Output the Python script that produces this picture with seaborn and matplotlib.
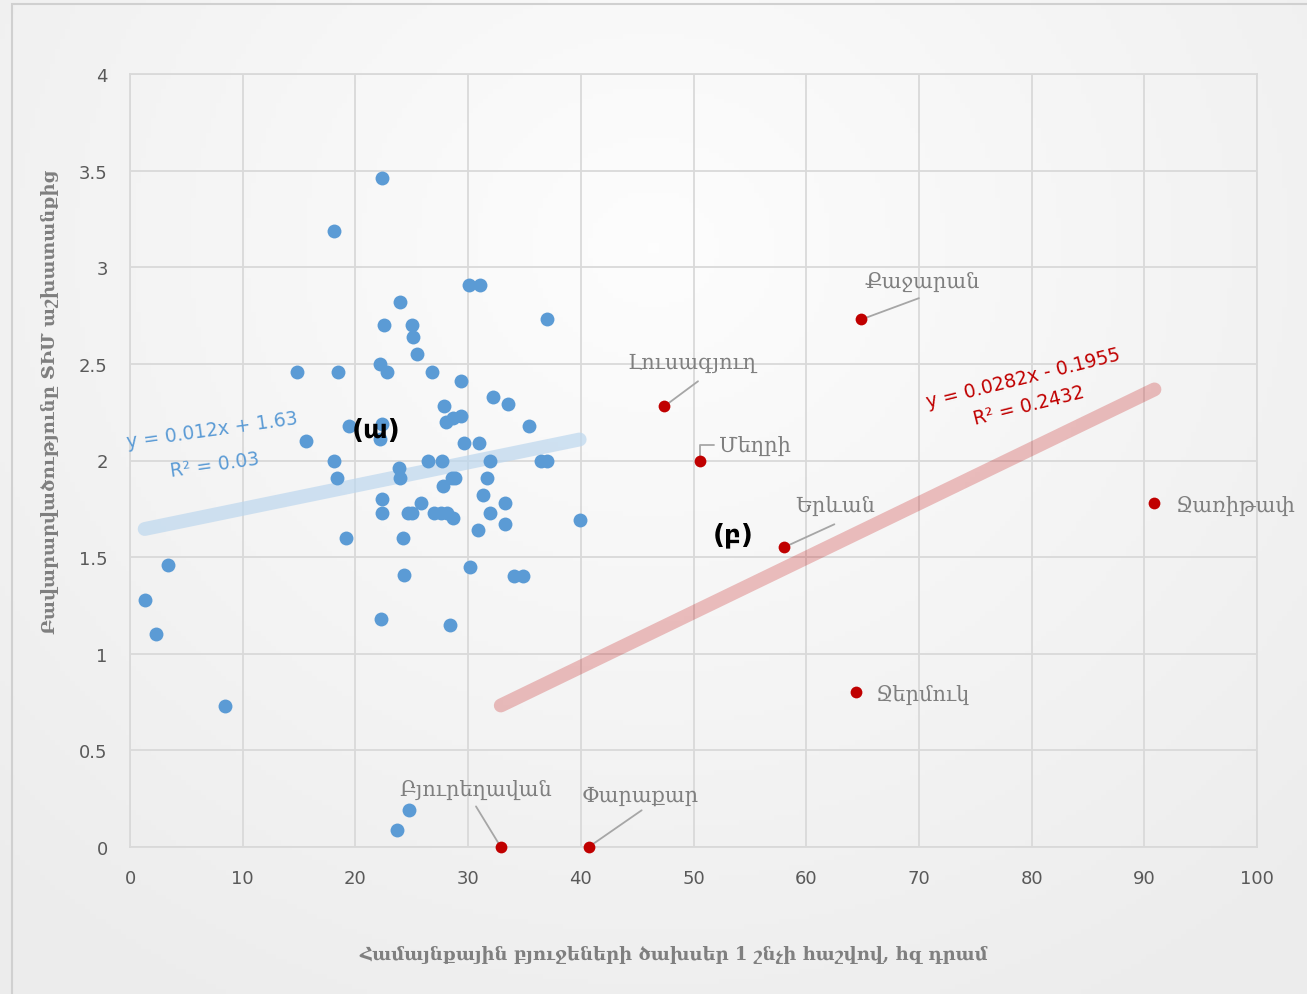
import numpy as np
import pandas as pd
import matplotlib
matplotlib.use("Agg")
import matplotlib.pyplot as plt
import seaborn as sns
from matplotlib.patches import Rectangle

# ---------------- data ----------------
blue_x = [1.3, 2.3, 3.4, 8.4, 14.8, 15.6, 18.1, 18.1, 18.4, 18.5, 19.2, 19.4, 22.4, 22.2, 22.5,
          22.4, 22.2, 22.8, 24.0, 25.0, 25.1, 25.5, 26.8, 29.4, 30.1, 31.1, 37.0, 27.9, 28.0,
          28.7, 29.4, 32.2, 33.5, 35.4, 29.6, 31.0, 23.9, 24.0, 26.4, 27.7, 31.9, 36.5, 37.0,
          28.6, 28.8, 27.8, 31.7, 22.4, 22.4, 24.7, 25.0, 25.8, 27.0, 27.6, 28.1, 28.7, 31.3,
          31.9, 33.3, 33.3, 30.9, 39.9, 24.2, 30.2, 24.3, 34.1, 34.9, 22.3, 28.4, 24.8, 23.7]
blue_y = [1.28, 1.10, 1.46, 0.73, 2.46, 2.10, 3.19, 2.00, 1.91, 2.46, 1.60, 2.18, 3.46, 2.50, 2.70,
          2.19, 2.11, 2.46, 2.82, 2.70, 2.64, 2.55, 2.46, 2.41, 2.91, 2.91, 2.73, 2.28, 2.20,
          2.22, 2.23, 2.33, 2.29, 2.18, 2.09, 2.09, 1.96, 1.91, 2.00, 2.00, 2.00, 2.00, 2.00,
          1.91, 1.91, 1.87, 1.91, 1.80, 1.73, 1.73, 1.73, 1.78, 1.73, 1.73, 1.73, 1.70, 1.82,
          1.73, 1.78, 1.67, 1.64, 1.69, 1.60, 1.45, 1.41, 1.40, 1.40, 1.18, 1.15, 0.19, 0.09]

red_names = ["Քաջարան", "Լուսագյուղ", "Մեղրի", "Երևան", "Ջառիթափ", "Ջերմուկ", "Բյուրեղավան", "Փարաքար"]
red_x = [64.9, 47.4, 50.6, 58.0, 90.9, 64.4, 32.9, 40.7]
red_y = [2.73, 2.28, 2.00, 1.55, 1.78, 0.80, 0.00, 0.00]

blue_coef = [0.012, 1.63]      # slope, intercept
red_coef = [0.0282, -0.1955]
blue_eq = ["y = 0.012x + 1.63", "R² = 0.03"]
red_eq = ["y = 0.0282x - 0.1955", "R² = 0.2432"]

x_ticks = [0, 10, 20, 30, 40, 50, 60, 70, 80, 90, 100]
y_ticks = [0, 0.5, 1, 1.5, 2, 2.5, 3, 3.5, 4]
y_tick_labels = ["0", "0.5", "1", "1.5", "2", "2.5", "3", "3.5", "4"]

x_label = "Համայնքային բյուջեների ծախսեր 1 շնչի հաշվով, հզ դրամ"
y_label = "Բավարարվածությունը ՏԻՄ աշխատանքից"

# ---------------- styling ----------------
sns.set_theme(style="white")
plt.rcParams["font.family"] = ["DejaVu Sans"]

W, H = 1307, 995
fig = plt.figure(figsize=(W / 100, H / 100), dpi=100)
fig.patch.set_facecolor("#f3f3f3")

# radial background gradient
bg = fig.add_axes([0, 0, 1, 1], zorder=-10)
yy, xx = np.mgrid[0:1:200j, 0:1:260j]
r = np.sqrt(((xx - 0.5) / 0.75) ** 2 + ((yy - 0.75) / 0.9) ** 2)
bg.imshow(1 - np.clip(r, 0, 1), cmap=matplotlib.colors.LinearSegmentedColormap.from_list(
    "g", ["#ececec", "#fdfdfd"]), extent=[0, 1, 0, 1], aspect="auto", origin="lower")
bg.set_axis_off()
fig.patches.append(Rectangle((12 / W, -0.05), 1.1, 1 - 5 / H + 0.05, transform=fig.transFigure,
                             fill=False, edgecolor="#d0d0d0", linewidth=1.5))

ax = fig.add_axes([130 / W, 1 - 848 / H, (1257 - 130) / W, (848 - 75) / H])
ax.set_facecolor("none")

blue_df = pd.DataFrame({"x": blue_x, "y": blue_y})
red_df = pd.DataFrame({"x": red_x, "y": red_y, "name": red_names})

# trend lines
bx = np.array([min(blue_x), max(blue_x)])
rx = np.array([min(red_x), max(red_x)])
sns.lineplot(x=bx, y=blue_coef[0] * bx + blue_coef[1], ax=ax, color="#bdd7ee", alpha=0.7,
             linewidth=10, solid_capstyle="round", zorder=2)
sns.lineplot(x=rx, y=red_coef[0] * rx + red_coef[1], ax=ax, color="#c00000", alpha=0.24,
             linewidth=10, solid_capstyle="round", zorder=2)

sns.scatterplot(data=blue_df, x="x", y="y", ax=ax, color="#5b9bd5", s=100, linewidth=0, zorder=3)
sns.scatterplot(data=red_df, x="x", y="y", ax=ax, color="#c00000", s=72, linewidth=0, zorder=4,
                clip_on=False)

ax.set_xlim(0, 100)
ax.set_ylim(0, 4)
ax.set_xticks(x_ticks)
ax.set_yticks(y_ticks)
ax.set_yticklabels(y_tick_labels)
ax.grid(True, color="#d9d9d9", linewidth=1.3)
ax.set_axisbelow(True)
for s in ax.spines.values():
    s.set_color("#d9d9d9")
    s.set_linewidth(1.3)
ax.tick_params(axis="both", length=0, labelsize=13, labelcolor="#595959")
ax.tick_params(axis="x", pad=16)
ax.tick_params(axis="y", pad=16)
ax.set_xlabel("")
ax.set_ylabel("")

lab_kw = dict(family="DejaVu Serif", fontsize=15, color="#7f7f7f")
fig.text(674 / W, 1 - 955 / H, x_label, ha="center", va="center", fontweight="bold",
         family="DejaVu Serif", fontsize=13, color="#7f7f7f")
fig.text(50 / W, 1 - 402 / H, y_label, ha="center", va="center", rotation=90, fontweight="bold",
         family="DejaVu Serif", fontsize=13, color="#7f7f7f")

# data labels: (text position in data coords, leader end, ha)
label_pos = {
    "Քաջարան": ((70.3, 2.93), (70.0, 2.84), "center"),
    "Լուսագյուղ": ((49.9, 2.51), (50.4, 2.41), "center"),
    "Մեղրի": ((52.3, 2.08), None, "left"),
    "Երևան": ((62.6, 1.77), (62.5, 1.67), "center"),
    "Ջառիթափ": ((92.8, 1.77), None, "left"),
    "Ջերմուկ": ((66.2, 0.79), None, "left"),
    "Բյուրեղավան": ((30.7, 0.30), (30.7, 0.21), "center"),
    "Փարաքար": ((45.3, 0.27), (45.4, 0.19), "center"),
}
for n, x, y in zip(red_names, red_x, red_y):
    (tx, ty), lead, ha = label_pos[n]
    ax.text(tx, ty, n, ha=ha, va="center", zorder=5, **lab_kw)
    if lead is not None:
        ax.plot([x, lead[0]], [y, lead[1]], color="#a6a6a6", linewidth=1.3, zorder=3.5,
                clip_on=False)
# elbow leader for Մեղրի
mx, my = red_x[2], red_y[2]
ax.plot([mx, mx, mx + 1.2], [my, my + 0.08, my + 0.08], color="#a6a6a6", linewidth=1.3, zorder=3.5)

# equations
ax.text(7.3, 2.16, blue_eq[0], color="#5b9bd5", fontsize=13.5, rotation=8, ha="center", va="center")
ax.text(7.5, 1.98, blue_eq[1], color="#5b9bd5", fontsize=13.5, rotation=8, ha="center", va="center")
ax.text(79.3, 2.43, red_eq[0], color="#c00000", fontsize=13.5, rotation=14, ha="center", va="center")
ax.text(79.8, 2.29, red_eq[1], color="#c00000", fontsize=13.5, rotation=14, ha="center", va="center")

ax.text(21.8, 2.16, "(ա)", fontsize=19, fontweight="bold", color="black", ha="center", va="center", zorder=5)
ax.text(53.5, 1.62, "(բ)", fontsize=19, fontweight="bold", color="black", ha="center", va="center", zorder=5)

fig.savefig("out.png", dpi=100)
